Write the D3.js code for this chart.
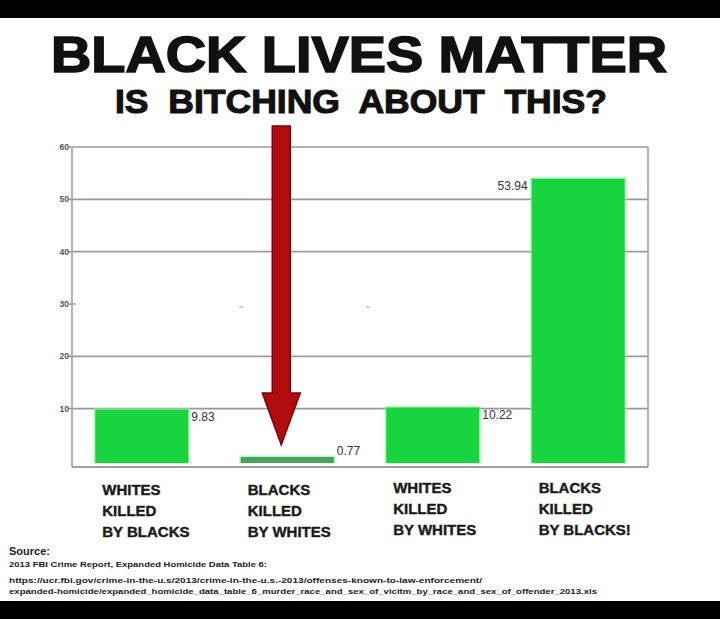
<!DOCTYPE html>
<html><head><meta charset="utf-8">
<script src="https://cdn.jsdelivr.net/npm/d3@7/dist/d3.min.js"></script>
<style>body{margin:0;background:#000}svg{display:block}</style>
</head><body>
<script>
const categories = ["WKB", "BKW", "WKW", "BKB"];
const categoryLines = [
  ["WHITES", "KILLED", "BY BLACKS"],
  ["BLACKS", "KILLED", "BY WHITES"],
  ["WHITES", "KILLED", "BY WHITES"],
  ["BLACKS", "KILLED", "BY BLACKS!"]
];
const values = [9.83, 0.77, 10.22, 53.94];
const valueLabels = ["9.83", "0.77", "10.22", "53.94"];
const yTicks = [10, 20, 30, 40, 50, 60];
const gridValues = [10, 20, 40, 50, 60];
const title = "BLACK LIVES MATTER";
const subtitle = "IS  BITCHING  ABOUT  THIS?";
const sourceLines = [
  "Source:",
  "2013 FBI Crime Report, Expanded Homicide Data Table 6:",
  "https://ucr.fbi.gov/crime-in-the-u.s/2013/crime-in-the-u.s.-2013/offenses-known-to-law-enforcement/",
  "expanded-homicide/expanded_homicide_data_table_6_murder_race_and_sex_of_vicitm_by_race_and_sex_of_offender_2013.xls"
];

(function(){
const W = 720, H = 619;
const svg = d3.select("body").append("svg").attr("width", W).attr("height", H);
svg.append("rect").attr("width", W).attr("height", H).attr("fill", "#000");
svg.append("rect").attr("y", 18).attr("width", W).attr("height", 583).attr("fill", "#fff");

const pL = 72, pR = 648, pT = 147, pB = 461;
const x = d3.scaleBand().domain(categories).range([pL, pR]).paddingInner(0.36).paddingOuter(0.16);
const y = d3.scaleLinear().domain([0, 60]).range([pB, pT]);

// title
svg.append("text").attr("x", 359).attr("y", 72).attr("text-anchor", "middle")
  .attr("font-family", "Liberation Sans, Arial, sans-serif").attr("font-weight", "bold")
  .attr("font-size", 50).attr("textLength", 616).attr("lengthAdjust", "spacingAndGlyphs")
  .attr("fill", "#111").attr("stroke", "#111").attr("stroke-width", 1.6).text(title);
svg.append("text").attr("x", 361).attr("y", 113).attr("text-anchor", "middle")
  .attr("font-family", "Liberation Sans, Arial, sans-serif").attr("font-weight", "bold")
  .attr("font-size", 34).attr("textLength", 492).attr("lengthAdjust", "spacingAndGlyphs")
  .attr("fill", "#111").attr("stroke", "#111").attr("stroke-width", 1.1)
  .style("white-space", "pre").text(subtitle);

// grid
const g = svg.append("g");
g.selectAll("line.grid").data(gridValues).join("line")
  .attr("x1", pL - 4).attr("x2", pR).attr("y1", d => y(d)).attr("y2", d => y(d))
  .attr("stroke", "#9a9a9a").attr("stroke-width", 1.6);
g.append("line").attr("x1", pL - 3).attr("x2", pL + 4).attr("y1", y(30)).attr("y2", y(30))
  .attr("stroke", "#9a9a9a").attr("stroke-width", 1.4);
[0.29, 0.51].forEach(f => {
  const xx = pL + f * (pR - pL);
  g.append("line").attr("x1", xx).attr("x2", xx + 4).attr("y1", y(30) + 3).attr("y2", y(30) + 3)
    .attr("stroke", "#bbb").attr("stroke-width", 1.4);
});
// frame
g.append("line").attr("x1", pL).attr("x2", pL).attr("y1", pT).attr("y2", pB + 6)
  .attr("stroke", "#a0a0a0").attr("stroke-width", 1.6);
g.append("line").attr("x1", pR).attr("x2", pR).attr("y1", pT).attr("y2", pB + 6)
  .attr("stroke", "#a0a0a0").attr("stroke-width", 1.6);
g.append("line").attr("x1", pL).attr("x2", pR).attr("y1", pB + 6).attr("y2", pB + 6)
  .attr("stroke", "#a0a0a0").attr("stroke-width", 1.8);

// y tick labels
g.selectAll("text.yt").data(yTicks).join("text")
  .attr("x", pL - 3).attr("y", d => y(d) + 3).attr("text-anchor", "end")
  .attr("font-family", "Liberation Sans, Arial, sans-serif").attr("font-weight", "bold")
  .attr("font-size", 8.5).attr("fill", "#555").text(d => d);

// bars
const data = categories.map((c, i) => ({c, v: values[i], label: valueLabels[i], lines: categoryLines[i], i}));
g.selectAll("rect.glow").data(data).join("rect")
  .attr("x", d => x(d.c) - 1.5).attr("width", x.bandwidth() + 3)
  .attr("y", d => y(d.v) - 1.5).attr("height", d => y(0) - y(d.v) + 4)
  .attr("fill", "#8ef59c").attr("opacity", 0.6);
g.selectAll("rect.bar").data(data).join("rect")
  .attr("x", d => x(d.c)).attr("width", x.bandwidth())
  .attr("y", d => y(d.v)).attr("height", d => y(0) - y(d.v) + 2)
  .attr("fill", d => d.v < 2 ? "#4f9f60" : "#17d43f");

// value labels
g.selectAll("text.val").data(data).join("text")
  .attr("x", d => d.i === 3 ? x(d.c) - 4 : x(d.c) + x.bandwidth() + 3)
  .attr("y", d => d.i === 3 ? y(d.v) + 11 : (d.v < 2 ? y(d.v) - 2 : y(d.v) + 11))
  .attr("text-anchor", d => d.i === 3 ? "end" : "start")
  .attr("font-family", "Liberation Sans, Arial, sans-serif")
  .attr("font-size", 12).attr("fill", "#333").text(d => d.label);

// category labels
data.forEach(d => {
  const t = g.append("text").attr("font-family", "Liberation Sans, Arial, sans-serif")
    .attr("font-weight", "bold").attr("font-size", 15).attr("fill", "#1a1a1a")
    .attr("stroke", "#1a1a1a").attr("stroke-width", 0.4);
  d.lines.forEach((ln, k) => {
    t.append("tspan").attr("x", x(d.c) + 7).attr("y", 495 + k * 21 - (d.i >= 2 ? 2 : 0)).text(ln);
  });
});

// red arrow annotation over the second bar
const ax = x(categories[1]) + x.bandwidth() / 2 - 6;
const shaftW = 18, headW = 38;
const yTop = y(64), yHead = y(13), yTip = y(3.1);
const arrow = d3.path();
arrow.moveTo(ax - shaftW / 2, yTop);
arrow.lineTo(ax + shaftW / 2, yTop);
arrow.lineTo(ax + shaftW / 2, yHead);
arrow.lineTo(ax + headW / 2, yHead);
arrow.lineTo(ax, yTip);
arrow.lineTo(ax - headW / 2, yHead);
arrow.lineTo(ax - shaftW / 2, yHead);
arrow.closePath();
svg.append("path").attr("d", arrow.toString()).attr("fill", "#b30c0c")
  .attr("stroke", "#7a0606").attr("stroke-width", 1.5).attr("stroke-linejoin", "miter");

// source
const s = svg.append("g").attr("font-family", "Liberation Sans, Arial, sans-serif").attr("fill", "#222");
s.append("text").attr("x", 9).attr("y", 555).attr("font-size", 11).attr("font-weight", "bold").text(sourceLines[0]);
s.append("text").attr("x", 9).attr("y", 567).attr("font-size", 7.5).attr("font-weight", "bold")
  .attr("textLength", 258).attr("lengthAdjust", "spacingAndGlyphs").text(sourceLines[1]);
s.append("text").attr("x", 9).attr("y", 583).attr("font-size", 7.5).attr("font-weight", "bold")
  .attr("textLength", 473).attr("lengthAdjust", "spacingAndGlyphs").text(sourceLines[2]);
s.append("text").attr("x", 9).attr("y", 594).attr("font-size", 7.5).attr("font-weight", "bold")
  .attr("textLength", 588).attr("lengthAdjust", "spacingAndGlyphs").text(sourceLines[3]);
})();
</script>
</body></html>
